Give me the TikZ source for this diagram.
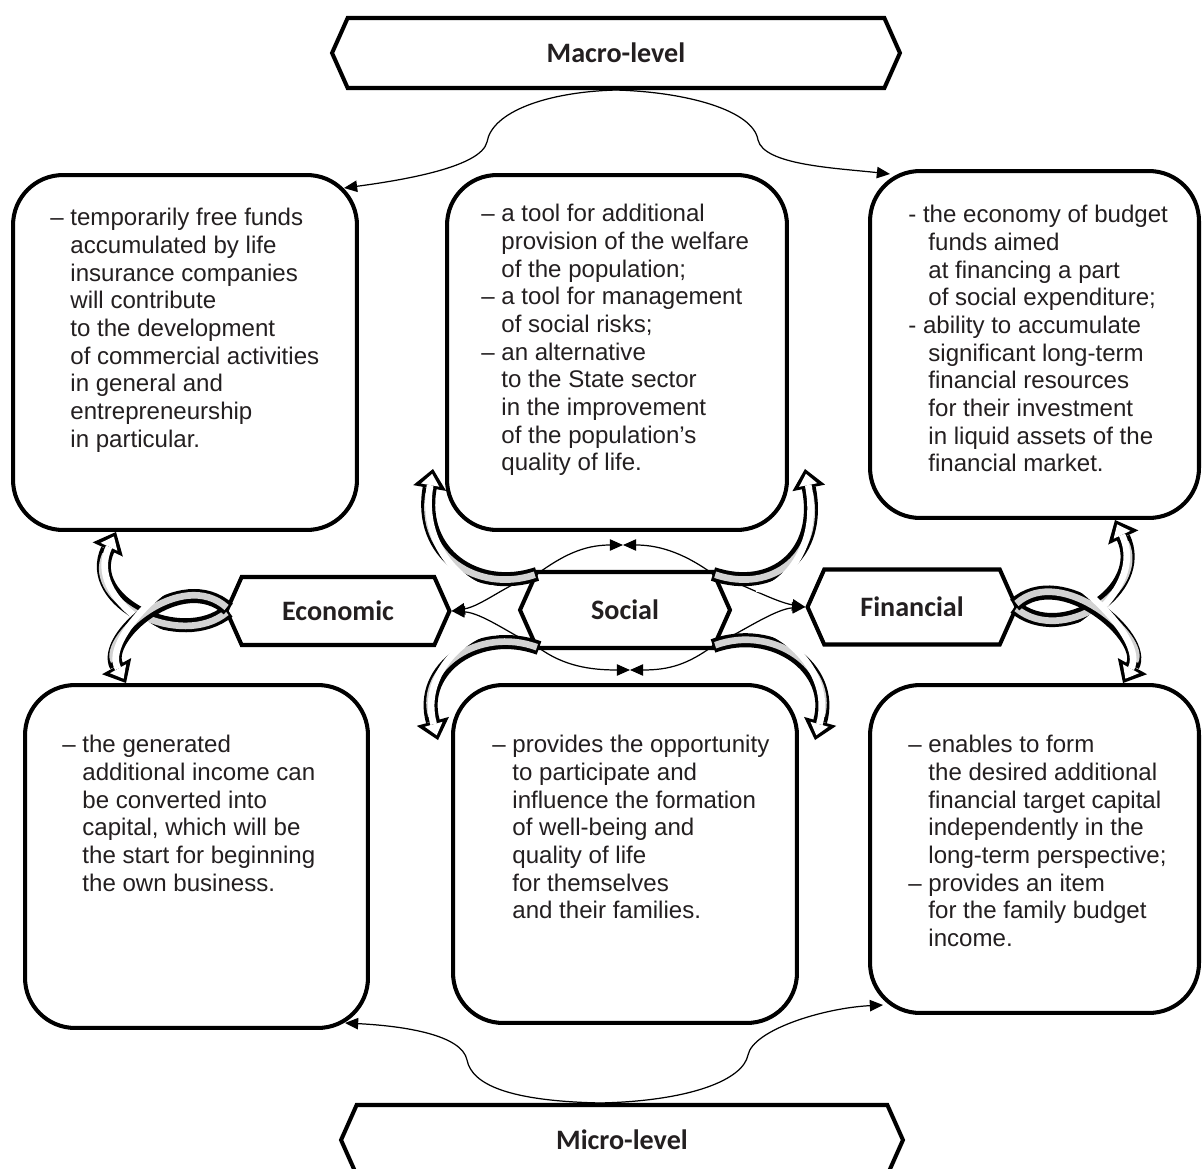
\documentclass[tikz,border=0pt]{standalone}
\usepackage{fontspec}
\setmainfont{Liberation Sans}
\newfontfamily\labfont{Carlito}
\usetikzlibrary{shapes}
\usetikzlibrary{positioning}
\usetikzlibrary{arrows.meta}
\usetikzlibrary{calc}
\definecolor{inkgray}{RGB}{35,31,32}
\newcommand{\ind}{\hspace*{0.834em}}
\tikzset{
    mybox/.style = {rounded corners=1cm, line width=2.3pt, draw=black, fill=white, inner sep=0pt},
    myhex/.style = {signal, signal to=west and east, signal pointer angle=132, line width=2.3pt, draw=black, fill=white, inner sep=0pt, font=\labfont\bfseries\fontsize{16}{19}\selectfont, text=inkgray},
    mytext/.style = {anchor=north west, inner sep=0pt, align=left, font=\fontsize{13.7}{15.75}\selectfont, text=inkgray},
    edgen/.style = {line width=0.7pt, black, -{Triangle[length=7.5pt,width=6.5pt]}},
    edgeb/.style = {line width=8pt, black, -{Triangle[length=11pt,width=19pt,line width=0pt]},
        postaction={draw=gray!35, line width=3.8pt, -, shorten <=1.3pt, shorten >=14pt},
        postaction={draw=white, line width=3.8pt, shorten <=26pt, shorten >=2.8pt, -{Triangle[length=6.5pt,width=10.5pt,line width=0pt]}}}
}

\begin{document}
\begin{tikzpicture}[x=0.02cm, y=-0.02cm]
  \useasboundingbox (0,0) rectangle (1203,1169);

  % boxes
  \node[mybox, minimum width=6.88cm, minimum height=7.1cm] (tl) at (185,352.5) {};
  \node[mybox, minimum width=6.8cm, minimum height=7.1cm] (tm) at (617,352.5) {};
  \node[mybox, minimum width=6.58cm, minimum height=6.94cm] (tr) at (1034.5,344.5) {};
  \node[mybox, minimum width=6.86cm, minimum height=6.86cm] (bl) at (196.5,856.5) {};
  \node[mybox, minimum width=6.88cm, minimum height=6.76cm] (bm) at (625,854) {};
  \node[mybox, minimum width=6.58cm, minimum height=6.56cm] (br) at (1034.5,849) {};

  \node[mytext] (tltxt) at (50,208) {– temporarily free funds\\ \ind accumulated by life\\ \ind insurance companies\\ \ind will contribute\\ \ind to the development\\ \ind of commercial activities\\ \ind in general and\\ \ind entrepreneurship\\ \ind in particular.};
  \node[mytext] (tmtxt) at (481,204) {– a tool for additional\\ \ind provision of the welfare\\ \ind of the population;\\ – a tool for management\\ \ind of social risks;\\ – an alternative\\ \ind to the State sector\\ \ind in the improvement\\ \ind of the population’s\\ \ind quality of life.};
  \node[mytext] (trtxt) at (908,205) {- the economy of budget\\ \ind funds aimed\\ \ind at financing a part\\ \ind of social expenditure;\\ - ability to accumulate\\ \ind significant long-term\\ \ind financial resources\\ \ind for their investment\\ \ind in liquid assets of the\\ \ind financial market.};
  \node[mytext] (bltxt) at (62,735) {– the generated\\ \ind additional income can\\ \ind be converted into\\ \ind capital, which will be\\ \ind the start for beginning\\ \ind the own business.};
  \node[mytext] (bmtxt) at (492,735) {– provides the opportunity\\ \ind to participate and\\ \ind influence the formation\\ \ind of well-being and\\ \ind quality of life\\ \ind for themselves\\ \ind and their families.};
  \node[mytext] (brtxt) at (908,735) {– enables to form\\ \ind the desired additional\\ \ind financial target capital\\ \ind independently in the\\ \ind long-term perspective;\\ – provides an item\\ \ind for the family budget\\ \ind income.};

  % levels and spheres
  \node[myhex, minimum width=11.36cm, minimum height=1.4cm] (macro) at (616,53) {Macro-level};
  \node[myhex, minimum width=11.24cm, minimum height=1.4cm] (micro) at (622,1140) {Micro-level};
  \node[myhex, minimum width=4.46cm, minimum height=1.36cm] (econ) at (338,611) {Economic};
  \node[myhex, minimum width=4.2cm, minimum height=1.52cm] (social) at (625,610) {Social};
  \node[myhex, minimum width=4.18cm, minimum height=1.5cm] (fin) at (912,607) {Financial};

  % thin links
  \coordinate (mbl) at (487,142);
  \coordinate (mbr) at (758,140);
  \draw[edgen] (macro.south) .. controls +(-70,2) and +(5,-30) .. (mbl) .. controls +(-6,25) and +(60,-8) .. ($(tl.north east)+(-15,15)$);
  \draw[edgen] (macro.south) .. controls +(70,2) and +(-5,-30) .. (mbr) .. controls +(6,25) and +(-55,-6) .. ($(tr.north west)+(22,5)$);

  \coordinate (mtop) at ($(micro.north)+(-22,0)$);
  \coordinate (mil) at (467,1060);
  \coordinate (mir) at (748,1055);
  \draw[edgen] (mtop) .. controls +(-90,-2) and +(5,25) .. (mil) .. controls +(-5,-25) and +(60,3) .. ($(bl.south east)+(-25,-7)$);
  \draw[edgen] (mtop) .. controls +(90,-2) and +(-5,25) .. (mir) .. controls +(5,-25) and +(-60,3) .. ($(br.south west)+(15,-10)$);

  \coordinate (stl) at ($(social)+(-88,-36)$);
  \coordinate (str) at ($(social)+(88,-36)$);
  \coordinate (sbl) at ($(social)+(-86,38)$);
  \coordinate (sbr) at ($(social)+(88,36)$);
  \coordinate (stop) at ($(social)+(-2,-65)$);
  \coordinate (sbot) at ($(social)+(5,60)$);
  \draw[edgen] (stl) .. controls +(25,-18) and +(-40,0) .. (stop);
  \draw[edgen] (str) .. controls +(-25,-18) and +(40,0) .. (stop);
  \draw[edgen] (sbl) .. controls +(25,18) and +(-40,0) .. (sbot);
  \draw[edgen] (sbr) .. controls +(-25,18) and +(40,0) .. (sbot);
  \draw[edgen] (stl) .. controls +(-30,10) and +(30,-5) .. (econ.east);
  \draw[edgen] (sbl) .. controls +(-30,-15) and +(30,2) .. (econ.east);
  \draw[edgen] (str) .. controls +(30,10) and +(-30,-5) .. (fin.west);
  \draw[edgen] (sbr) .. controls +(30,-15) and +(-30,2) .. (fin.west);

  % block arrows
  \draw[edgeb] ($(econ.west)+(4,0)$) .. controls +(-47,39) and +(-33,70) .. ($(tl.south west)+(105,0)$);
  \draw[edgeb] ($(econ.west)+(4,-2)$) .. controls +(-47,-42) and +(-25,-45) .. ($(bl.north west)+(103,0)$);
  \draw[edgeb] ($(fin.east)+(-4,0)$) .. controls +(47,39) and +(33,70) .. ($(tr.south west)+(247,0)$);
  \draw[edgeb] ($(fin.east)+(-4,-2)$) .. controls +(47,-42) and +(25,-45) .. ($(br.north west)+(255,0)$);
  \draw[edgeb] (stl) .. controls +(-60,20) and +(-15,85) .. ($(tm.south west)+(-12,-63)$);
  \draw[edgeb] (str) .. controls +(60,20) and +(17,85) .. ($(tm.south east)+(16,-63)$);
  \draw[edgeb] (sbl) .. controls +(-60,-22) and +(-20,-72) .. ($(bm.north west)+(-13,57)$);
  \draw[edgeb] (sbr) .. controls +(60,-22) and +(20,-72) .. ($(bm.north east)+(16,57)$);
\end{tikzpicture}
\end{document}
